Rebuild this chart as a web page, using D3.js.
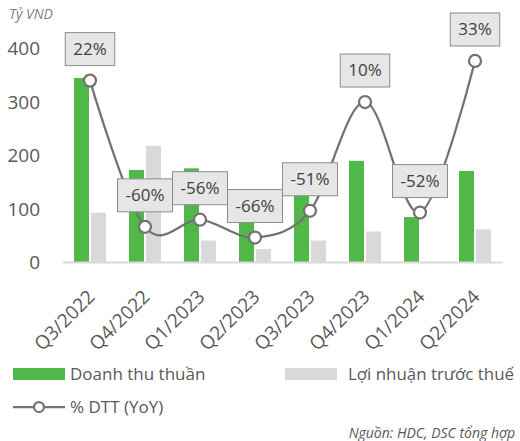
<!DOCTYPE html>
<html>
<head>
<meta charset="utf-8">
<script src="https://cdn.jsdelivr.net/npm/d3@7"></script>
<style>
  body { margin: 0; background: #fff; }
  svg { display: block; font-family: "Open Sans", "Noto Sans", sans-serif; }
</style>
</head>
<body>
<svg id="chart" width="520" height="441"></svg>
<script>
// quarters on the x axis
var quarters = ["Q3/2022", "Q4/2022", "Q1/2023", "Q2/2023", "Q3/2023", "Q4/2023", "Q1/2024", "Q2/2024"];
// Doanh thu thuần (tỷ VND)
var revenue = [345, 173, 176, 80, 130, 190, 85, 171];
// Lợi nhuận trước thuế (tỷ VND)
var profit = [93, 218, 41, 25, 41, 58, 0, 62];
// % DTT (YoY)
var growth = [0.22, -0.60, -0.56, -0.66, -0.51, 0.10, -0.52, 0.33];
var yTicks = [0, 100, 200, 300, 400];

var green = "#50b848", grey = "#d9d9d9", lineCol = "#767171";

var svg = d3.select("#chart");

var x = d3.scaleBand().domain(quarters).range([62.5, 502.5]);
var y = d3.scaleLinear().domain([0, 400]).range([262.5, 48.5]);
var y2 = d3.scaleLinear().domain([-0.8, 0.4]).range([262.5, 48.5]);

var barW = 15;

// unit label
svg.append("text")
    .attr("x", 9).attr("y", 19)
    .attr("font-size", 14).attr("font-style", "italic")
    .attr("fill", "#7f7f7f")
    .text("Tỷ VND");

// y axis labels
svg.append("g").selectAll("text")
  .data(yTicks).enter().append("text")
    .attr("x", 40)
    .attr("y", function(d) { return y(d); })
    .attr("dy", "0.35em")
    .attr("text-anchor", "end")
    .attr("font-size", 19)
    .attr("fill", "#595959")
    .text(function(d) { return d; });

// bars
var bars = svg.append("g");
bars.selectAll("rect.rev")
  .data(revenue).enter().append("rect")
    .attr("class", "rev")
    .attr("x", function(d, i) { return x(quarters[i]) + x.bandwidth() / 2 - barW - 1; })
    .attr("y", function(d) { return y(d); })
    .attr("width", barW)
    .attr("height", function(d) { return y(0) - y(d); })
    .attr("fill", green);
bars.selectAll("rect.pro")
  .data(profit).enter().append("rect")
    .attr("class", "pro")
    .attr("x", function(d, i) { return x(quarters[i]) + x.bandwidth() / 2 + 1; })
    .attr("y", function(d) { return y(d); })
    .attr("width", barW)
    .attr("height", function(d) { return y(0) - y(d); })
    .attr("fill", grey);

// baseline
svg.append("line")
    .attr("x1", x.range()[0]).attr("x2", x.range()[1])
    .attr("y1", y(0)).attr("y2", y(0))
    .attr("stroke", "#d9d9d9").attr("stroke-width", 2);

// x labels
svg.append("g").selectAll("text")
  .data(quarters).enter().append("text")
    .attr("transform", function(d) {
      return "translate(" + (x(d) + x.bandwidth() / 2 + 6) + ",298) rotate(-45)";
    })
    .attr("text-anchor", "end")
    .attr("font-size", 19)
    .attr("fill", "#595959")
    .text(function(d) { return d; });

// growth line
var pts = growth.map(function(v, i) {
  return [x(quarters[i]) + x.bandwidth() / 2, y2(v)];
});
svg.append("path")
    .attr("d", d3.line().curve(d3.curveCardinal.tension(0))(pts))
    .attr("fill", "none")
    .attr("stroke", lineCol)
    .attr("stroke-width", 2.25);

svg.append("g").selectAll("circle")
  .data(pts).enter().append("circle")
    .attr("cx", function(d) { return d[0]; })
    .attr("cy", function(d) { return d[1]; })
    .attr("r", 6)
    .attr("fill", "#fff")
    .attr("stroke", lineCol)
    .attr("stroke-width", 2.25);

// data labels
var lab = svg.append("g").selectAll("g")
  .data(growth).enter().append("g")
    .attr("transform", function(d, i) {
      return "translate(" + pts[i][0] + "," + (pts[i][1] - 15) + ")";
    });
lab.append("text")
    .attr("x", 0).attr("y", -16.5)
    .attr("dy", "0.35em")
    .attr("text-anchor", "middle")
    .attr("font-size", 17)
    .attr("fill", "#404040")
    .text(function(d) { return Math.round(d * 100) + "%"; });
lab.each(function() {
  var g = d3.select(this);
  var bb = g.select("text").node().getBBox();
  var w = bb.width + 16;
  g.insert("rect", "text")
    .attr("x", -w / 2).attr("y", -33)
    .attr("width", w).attr("height", 33)
    .attr("fill", "#e7e6e6")
    .attr("stroke", "#8c8c8c")
    .attr("stroke-width", 1);
});

// legend
var leg = svg.append("g");
leg.append("rect").attr("x", 13).attr("y", 368).attr("width", 52).attr("height", 12).attr("fill", green);
leg.append("text").attr("x", 70).attr("y", 374).attr("dy", "0.35em")
    .attr("font-size", 17).attr("fill", "#595959").text("Doanh thu thuần");
leg.append("rect").attr("x", 285).attr("y", 368).attr("width", 52).attr("height", 12).attr("fill", grey);
leg.append("text").attr("x", 348).attr("y", 374).attr("dy", "0.35em")
    .attr("font-size", 17).attr("fill", "#595959")
    .attr("textLength", 166).attr("lengthAdjust", "spacingAndGlyphs")
    .text("Lợi nhuận trước thuế");
leg.append("line").attr("x1", 13).attr("x2", 65).attr("y1", 407).attr("y2", 407)
    .attr("stroke", lineCol).attr("stroke-width", 2.25);
leg.append("circle").attr("cx", 39).attr("cy", 407).attr("r", 5)
    .attr("fill", "#fff").attr("stroke", lineCol).attr("stroke-width", 2.25);
leg.append("text").attr("x", 70).attr("y", 407).attr("dy", "0.35em")
    .attr("font-size", 17).attr("fill", "#595959").text("% DTT (YoY)");

// source
svg.append("text")
    .attr("x", 515).attr("y", 433).attr("dy", "0.35em")
    .attr("text-anchor", "end")
    .attr("font-size", 14).attr("font-style", "italic")
    .attr("fill", "#595959")
    .text("Nguồn: HDC, DSC tổng hợp");
</script>
</body>
</html>
